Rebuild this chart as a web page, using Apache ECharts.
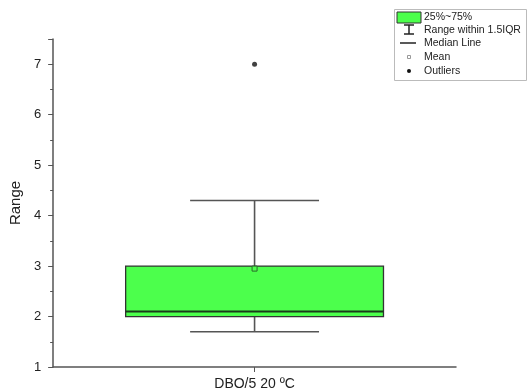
<!DOCTYPE html>
<html>
<head>
<meta charset="utf-8">
<script src="https://cdn.jsdelivr.net/npm/echarts@6/dist/echarts.min.js"></script>
<style>html,body{margin:0;padding:0;background:#fff}#c{width:528px;height:392px}</style>
</head>
<body>
<div id="c"></div>
<script>
var categories = ['DBO/5 20 ºC'];
// [min whisker, Q1, median, Q3, max whisker, mean]
var boxStats = [[1.7, 2.0, 2.1, 3.0, 4.3, 2.95]];
var outliers = [[0, 7.0]];
var legendLabels = ['25%~75%', 'Range within 1.5IQR', 'Median Line', 'Mean', 'Outliers'];

var chart = echarts.init(document.getElementById('c'), null, {renderer: 'canvas'});
var font = 'Liberation Sans, Arial, sans-serif';
var green = '#4cff4c';

var boxData = boxStats.map(function (s, i) { return [i].concat(s); });

var legendRowY = [17, 30, 43, 57, 71];
var graphics = [
  {type: 'rect', shape: {x: 394.5, y: 9.5, width: 132, height: 71}, style: {fill: '#fff', stroke: '#bbb', lineWidth: 1}},
  {type: 'rect', shape: {x: 397, y: 12, width: 24, height: 11}, style: {fill: green, stroke: '#333', lineWidth: 1}},
  {type: 'line', shape: {x1: 409, y1: 25, x2: 409, y2: 34}, style: {stroke: '#222', lineWidth: 1.5}},
  {type: 'line', shape: {x1: 404, y1: 25, x2: 414, y2: 25}, style: {stroke: '#222', lineWidth: 1.5}},
  {type: 'line', shape: {x1: 404, y1: 34, x2: 414, y2: 34}, style: {stroke: '#222', lineWidth: 1.5}},
  {type: 'line', shape: {x1: 400, y1: 43, x2: 416, y2: 43}, style: {stroke: '#222', lineWidth: 1.5}},
  {type: 'rect', shape: {x: 407.5, y: 55.5, width: 3, height: 3}, style: {fill: '#fff', stroke: '#999', lineWidth: 1}},
  {type: 'circle', shape: {cx: 409, cy: 71, r: 2}, style: {fill: '#111'}}
];
legendLabels.forEach(function (t, i) {
  graphics.push({type: 'text', x: 424, y: legendRowY[i], style: {text: t, fill: '#222', font: '10.5px ' + font, verticalAlign: 'middle'}});
});

chart.setOption({
  animation: false,
  backgroundColor: '#fff',
  grid: {left: 50, right: 72, top: 39, bottom: 25, containLabel: false},
  xAxis: {
    type: 'category',
    data: categories,
    boundaryGap: true,
    axisLine: {lineStyle: {color: '#555', width: 1.5}},
    axisTick: {show: true, alignWithLabel: true, length: 5, lineStyle: {color: '#555'}},
    axisLabel: {color: '#222', fontSize: 14, fontFamily: font, margin: 10},
    splitLine: {show: false}
  },
  yAxis: {
    type: 'value',
    min: 1, max: 7.5, interval: 1,
    name: 'Range',
    nameLocation: 'middle',
    nameGap: 23,
    nameRotate: 90,
    nameTextStyle: {color: '#222', fontSize: 15, fontFamily: font},
    axisLine: {show: true, lineStyle: {color: '#555', width: 1.5}},
    axisTick: {show: true, length: 5, lineStyle: {color: '#555'}},
    minorTick: {show: true, splitNumber: 2, length: 3, lineStyle: {color: '#555'}},
    axisLabel: {color: '#222', fontSize: 13, fontFamily: font, margin: 12, showMaxLabel: false,
      formatter: function (v) { return v === 7.5 ? '' : String(v); }},
    splitLine: {show: false}
  },
  graphic: graphics,
  series: [
    {
      type: 'custom',
      data: boxData,
      encode: {x: 0, y: [1, 2, 3, 4, 5, 6]},
      renderItem: function (params, api) {
        var xi = api.value(0);
        var band = api.size([1, 0])[0];
        var half = band * 0.32;
        var capHalf = band * 0.16;
        var pMin = api.coord([xi, api.value(1)]);
        var pQ1 = api.coord([xi, api.value(2)]);
        var pMed = api.coord([xi, api.value(3)]);
        var pQ3 = api.coord([xi, api.value(4)]);
        var pMax = api.coord([xi, api.value(5)]);
        var pMean = api.coord([xi, api.value(6)]);
        var cx = pQ1[0];
        var ws = {stroke: '#555', lineWidth: 1.6};
        return {
          type: 'group',
          children: [
            {type: 'line', shape: {x1: cx, y1: pQ3[1], x2: cx, y2: pMax[1]}, style: ws},
            {type: 'line', shape: {x1: cx - capHalf, y1: pMax[1], x2: cx + capHalf, y2: pMax[1]}, style: ws},
            {type: 'line', shape: {x1: cx, y1: pQ1[1], x2: cx, y2: pMin[1]}, style: ws},
            {type: 'line', shape: {x1: cx - capHalf, y1: pMin[1], x2: cx + capHalf, y2: pMin[1]}, style: ws},
            {type: 'rect', shape: {x: cx - half, y: pQ3[1], width: half * 2, height: pQ1[1] - pQ3[1]},
              style: {fill: green, stroke: '#333', lineWidth: 1.3}},
            {type: 'line', shape: {x1: cx - half, y1: pMed[1], x2: cx + half, y2: pMed[1]}, style: {stroke: '#1a3a1a', lineWidth: 2}},
            {type: 'rect', shape: {x: pMean[0] - 2.5, y: pMean[1] - 2.5, width: 5, height: 5},
              style: {fill: green, stroke: '#2a6a2a', lineWidth: 1}}
          ]
        };
      },
      z: 2
    },
    {
      type: 'scatter',
      data: outliers,
      symbol: 'circle',
      symbolSize: 5,
      itemStyle: {color: '#111'},
      z: 3
    }
  ]
});
</script>
</body>
</html>
